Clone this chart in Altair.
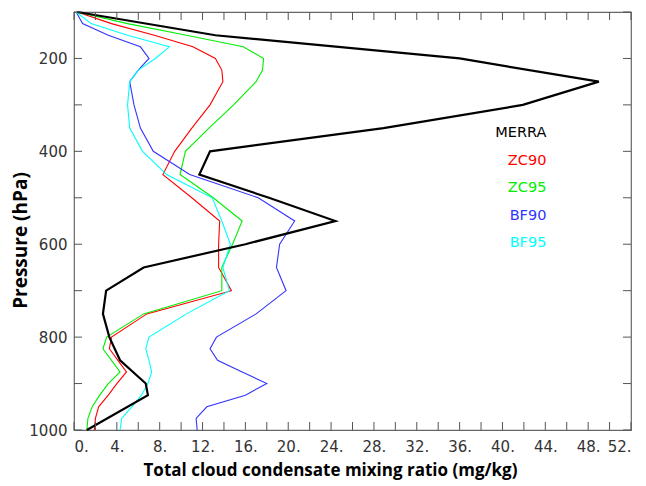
import altair as alt
import pandas as pd

# ---------------- data ----------------
series_names = ["MERRA", "ZC90", "ZC95", "BF90", "BF95"]
series_colors = ["#000000", "#ff0000", "#00ee00", "#3333ff", "#00ffff"]

p_merra = [100, 150, 200, 250, 300, 350, 400, 450, 500, 550, 600, 650, 700, 750,
           800, 850, 900, 925, 1000]
merra = [0.3, 13.2, 36.0, 49.0, 41.9, 28.9, 12.7, 11.7, 18.2, 24.4, 16.0, 6.5, 3.0,
         2.7, 3.3, 4.3, 6.7, 6.9, 1.2]

p_fine = [100, 125, 150, 175, 200, 225, 250, 300, 350, 400, 450, 500, 550, 600, 650,
          700, 750, 800, 825, 850, 875, 900, 925, 950, 975, 1000]
zc90 = [0.3, 3.5, 7.5, 11.1, 13.2, 13.8, 13.9, 12.7, 11.0, 9.4, 8.3, 11.0, 13.6, 13.5,
        13.5, 14.7, 6.8, 3.5, 3.3, 4.1, 4.9, 4.0, 3.2, 2.3, 2.0, 1.9]
zc95 = [0.3, 5.0, 10.5, 15.8, 17.7, 17.6, 17.0, 14.9, 12.6, 10.4, 9.9, 13.0, 15.7, 14.8,
        13.8, 13.8, 6.5, 3.05, 2.7, 3.5, 4.3, 3.2, 2.4, 1.7, 1.3, 1.2]
bf90 = [0.2, 0.8, 3.2, 6.2, 7.0, 6.0, 5.2, 5.6, 6.2, 7.4, 10.8, 17.2, 20.6, 19.2, 18.9,
        19.8, 17.0, 13.3, 12.7, 13.4, 15.7, 18.0, 16.0, 12.4, 11.4, 11.5]
bf95 = [0.2, 1.6, 5.0, 8.9, 7.6, 6.0, 5.2, 5.0, 5.2, 6.4, 8.65, 12.9, 13.8, 14.6, 13.9,
        14.5, 10.5, 7.0, 6.7, 7.0, 7.25, 6.9, 6.3, 5.4, 4.45, 4.3]

x_ticks = list(range(0, 53, 2))
x_labels = list(range(0, 53, 4))
y_ticks = list(range(100, 1001, 100))
y_labels = list(range(200, 1001, 200))

# ---------------- tables ----------------
rows = []
for p, v in zip(p_merra, merra):
    rows.append({"series": "MERRA", "pressure": p, "value": v})
for name, vals in [("ZC90", zc90), ("ZC95", zc95), ("BF90", bf90), ("BF95", bf95)]:
    for p, v in zip(p_fine, vals):
        rows.append({"series": name, "pressure": p, "value": v})
df = pd.DataFrame(rows)
df_merra = df[df.series == "MERRA"]
df_other = df[df.series != "MERRA"]

leg = pd.DataFrame({"series": series_names, "i": list(range(len(series_names)))})

W, H = 557, 418
xscale = alt.Scale(domain=[0, 52], nice=False, zero=False)
yscale = alt.Scale(domain=[100, 1000], nice=False, zero=False, reverse=True)
cscale = alt.Scale(domain=series_names, range=series_colors)

xaxis = alt.Axis(values=x_labels, labelExpr="datum.value + '.'", ticks=False, domain=False,
                 grid=False, labelFont="DejaVu Sans", labelFontSize=15, labelColor="#333333",
                 labelPadding=9, title="Total cloud condensate mixing ratio (mg/kg)",
                 titleFont="Open Sans", titleFontWeight="bold", titleFontSize=17,
                 titleColor="#000000", titleX=256, titleY=40, titleAlign="center",
                 titleBaseline="middle")
yaxis = alt.Axis(values=y_labels, labelExpr="'' + datum.value", ticks=False, domain=False,
                 grid=False, labelFont="DejaVu Sans", labelFontSize=15, labelColor="#333333",
                 labelPadding=7, title="Pressure (hPa)", titleFont="Open Sans",
                 titleFontWeight="bold", titleFontSize=19, titleColor="#000000",
                 titleX=-54, titleY=228, titleAlign="center", titleBaseline="middle",
                 titleAngle=270)


def X(field):
    return alt.X(field, scale=xscale, axis=xaxis)


def Y(field):
    return alt.Y(field, scale=yscale, axis=yaxis)


others = alt.Chart(df_other).mark_line(strokeWidth=1.1).encode(
    x=X("value:Q"),
    y=Y("pressure:Q"),
    color=alt.Color("series:N", scale=cscale, legend=None),
    detail="series:N",
    order=alt.Order("pressure:Q"),
)
merra_line = alt.Chart(df_merra).mark_line(strokeWidth=2.2).encode(
    x=X("value:Q"),
    y=Y("pressure:Q"),
    color=alt.Color("series:N", scale=cscale, legend=None),
    order=alt.Order("pressure:Q"),
)

legend_text = alt.Chart(leg).transform_calculate(
    px="44.1", py="361 + datum.i * 59.2"
).mark_text(align="right", baseline="middle", font="DejaVu Sans", fontSize=14.5).encode(
    x=X("px:Q"),
    y=Y("py:Q"),
    text="series:N",
    color=alt.Color("series:N", scale=cscale, legend=None),
)

tick_color = "#555555"
xt = pd.DataFrame({"v": x_ticks})
yt = pd.DataFrame({"v": y_ticks})
top_ticks = alt.Chart(xt).mark_rule(color=tick_color, strokeWidth=1).encode(
    x=X("v:Q"), y=alt.value(0), y2=alt.value(8))
bottom_ticks = alt.Chart(xt).mark_rule(color=tick_color, strokeWidth=1).encode(
    x=X("v:Q"), y=alt.value(H), y2=alt.value(H - 8))
left_ticks = alt.Chart(yt).mark_rule(color=tick_color, strokeWidth=1).encode(
    y=Y("v:Q"), x=alt.value(0), x2=alt.value(8))
right_ticks = alt.Chart(yt).mark_rule(color=tick_color, strokeWidth=1).encode(
    y=Y("v:Q"), x=alt.value(W), x2=alt.value(W - 8))

chart = alt.layer(
    others, merra_line, legend_text, top_ticks, bottom_ticks, left_ticks, right_ticks
).properties(
    width=W, height=H,
    autosize=alt.AutoSizeParams(type="none"),
    padding={"left": 66, "top": 4, "right": 7, "bottom": 58},
    background="white",
).configure_view(stroke="#666666", strokeWidth=1.2)

chart.save("out.html", embed_options={"renderer": "svg", "actions": False})
